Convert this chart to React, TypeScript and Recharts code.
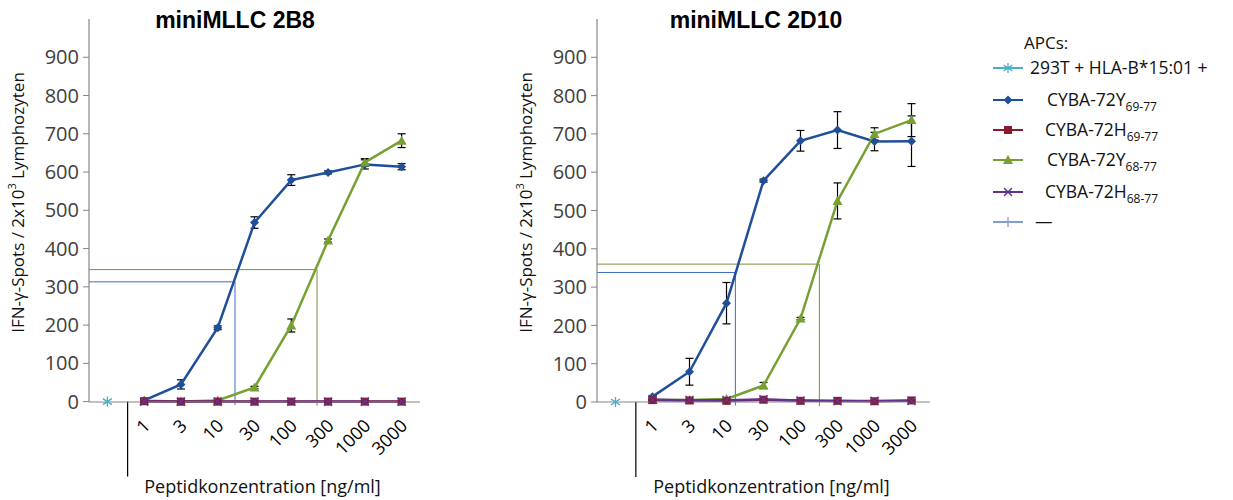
import { LineChart, Line, XAxis, YAxis, ErrorBar, ReferenceLine, Label } from "recharts";

const FONT = "'Open Sans', 'DejaVu Sans', sans-serif";

// peptide doses; slot 0 is the APC-only control
const doseLabels = ["", "1", "3", "10", "30", "100", "300", "1000", "3000"];
const spotTicks = [0, 100, 200, 300, 400, 500, 600, 700, 800, 900];

// miniMLLC 2B8
const ctrl2B8 = [0, null, null, null, null, null, null, null, null];
const y6977_2B8 = [null, 3, 45, 193, 468, 579, 599, 620, 614];
const y6977Err2B8 = [0, 3, 12, 5, 15, 14, 4, 12, 8];
const h6977_2B8 = [null, 1, 0, 0, 0, 0, 0, 0, 0];
const h6977Err2B8 = [0, 1, 1, 1, 1, 1, 1, 1, 1];
const y6877_2B8 = [null, 2, 0, 3, 37, 199, 421, 625, 682];
const y6877Err2B8 = [0, 1, 1, 2, 3, 17, 4, 10, 18];
const h6877_2B8 = [null, 0, 0, 0, 0, 0, 0, 0, 0];
const h6877Err2B8 = [0, 1, 1, 1, 1, 1, 1, 1, 1];
const ec50Y6977_2B8 = [3.47, 313];
const ec50Y6877_2B8 = [5.7, 345];

// miniMLLC 2D10
const ctrl2D10 = [0, null, null, null, null, null, null, null, null];
const y6977_2D10 = [null, 14, 79, 258, 578, 682, 710, 680, 681];
const y6977Err2D10 = [0, 3, 35, 54, 4, 27, 48, 24, 66];
const h6977_2D10 = [null, 5, 4, 3, 6, 3, 3, 2, 4];
const h6977Err2D10 = [0, 2, 2, 2, 3, 2, 2, 2, 2];
const y6877_2D10 = [null, 5, 5, 8, 43, 218, 525, 700, 736];
const y6877Err2D10 = [0, 2, 2, 2, 8, 3, 47, 16, 43];
const h6877_2D10 = [null, 6, 5, 5, 7, 4, 2, 3, 3];
const h6877Err2D10 = [0, 2, 2, 2, 2, 2, 2, 2, 2];
const ec50Y6977_2D10 = [3.24, 338];
const ec50Y6877_2D10 = [5.51, 360];

// legend entries (name + subscript)
const legendNames = ["293T + HLA-B*15:01 +", "CYBA-72Y", "CYBA-72H", "CYBA-72Y", "CYBA-72H", "—"];
const legendSubs = ["", "69-77", "69-77", "68-77", "68-77", ""];
const legendShapes = ["asterisk", "diamond", "square", "triangle", "cross", "plus"];
const legendColors = ["#4BACC6", "#1F4F99", "#8C1A2E", "#77A032", "#60338F", "#7F9FD0"];

type Row = Record<string, number | null>;

function buildRows(
  ctrl: (number | null)[],
  y69: (number | null)[],
  y69Err: number[],
  h69: (number | null)[],
  h69Err: number[],
  y68: (number | null)[],
  y68Err: number[],
  h68: (number | null)[],
  h68Err: number[]
): Row[] {
  return doseLabels.map((_, i) => ({
    x: i,
    ctrl: ctrl[i],
    y69: y69[i],
    y69Err: y69Err[i],
    h69: h69[i],
    h69Err: h69Err[i],
    y68: y68[i],
    y68Err: y68Err[i],
    h68: h68[i],
    h68Err: h68Err[i],
  }));
}

const rows2B8 = buildRows(ctrl2B8, y6977_2B8, y6977Err2B8, h6977_2B8, h6977Err2B8, y6877_2B8, y6877Err2B8, h6877_2B8, h6877Err2B8);
const rows2D10 = buildRows(ctrl2D10, y6977_2D10, y6977Err2D10, h6977_2D10, h6977Err2D10, y6877_2D10, y6877Err2D10, h6877_2D10, h6877Err2D10);

function Marker({ shape, x, y, color }: { shape: string; x: number; y: number; color: string }) {
  switch (shape) {
    case "diamond":
      return <polygon points={`${x},${y - 4.5} ${x + 4.5},${y} ${x},${y + 4.5} ${x - 4.5},${y}`} fill={color} />;
    case "square":
      return <rect x={x - 4} y={y - 4} width={8} height={8} fill={color} />;
    case "triangle":
      return <polygon points={`${x},${y - 5} ${x + 5},${y + 4} ${x - 5},${y + 4}`} fill={color} />;
    case "cross":
      return (
        <g stroke={color} strokeWidth={1.5}>
          <line x1={x - 4} y1={y - 4} x2={x + 4} y2={y + 4} />
          <line x1={x - 4} y1={y + 4} x2={x + 4} y2={y - 4} />
        </g>
      );
    case "asterisk":
      return (
        <g stroke={color} strokeWidth={1.3}>
          <line x1={x} y1={y - 5} x2={x} y2={y + 5} />
          <line x1={x - 4.5} y1={y - 3} x2={x + 4.5} y2={y + 3} />
          <line x1={x - 4.5} y1={y + 3} x2={x + 4.5} y2={y - 3} />
        </g>
      );
    default:
      return (
        <g stroke={color} strokeWidth={1.3}>
          <line x1={x - 5} y1={y} x2={x + 5} y2={y} />
          <line x1={x} y1={y - 5} x2={x} y2={y + 5} />
        </g>
      );
  }
}

function dotFor(shape: string, color: string) {
  // eslint-disable-next-line @typescript-eslint/no-explicit-any
  return (props: any) => {
    const { cx, cy, index, value } = props;
    if (cx == null || cy == null || value == null) return <g key={`${shape}-${index}`} />;
    return (
      <g key={`${shape}-${index}`}>
        <Marker shape={shape} x={cx} y={cy} color={color} />
      </g>
    );
  };
}

// eslint-disable-next-line @typescript-eslint/no-explicit-any
function DoseTick(props: any) {
  const { x, y, payload } = props;
  return (
    <g transform={`translate(${x},${y})`}>
      <text
        x={7}
        y={25}
        textAnchor="end"
        transform="rotate(-45 7 25)"
        fill="#000"
        fontSize={18}
        fontFamily={FONT}
      >
        {doseLabels[payload.value]}
      </text>
    </g>
  );
}

// eslint-disable-next-line @typescript-eslint/no-explicit-any
function SpotsTitle(props: any) {
  const { viewBox } = props;
  const cx = viewBox.x + 8;
  const cy = viewBox.y + viewBox.height / 2 - 8;
  return (
    <text
      transform={`translate(${cx},${cy}) rotate(-90)`}
      textAnchor="middle"
      dominantBaseline="central"
      fill="#111"
      fontSize={17}
      fontFamily={FONT}
    >
      IFN-γ-Spots / 2x10
      <tspan dy={-6} fontSize={11}>3</tspan>
      <tspan dy={6}> Lymphozyten</tspan>
    </text>
  );
}

// eslint-disable-next-line @typescript-eslint/no-explicit-any
function DoseTitle(props: any) {
  const { viewBox } = props;
  return (
    <text
      x={viewBox.x + viewBox.width / 2 + 8}
      y={viewBox.y + 91}
      textAnchor="middle"
      fill="#111"
      fontSize={18}
      fontFamily={FONT}
    >
      Peptidkonzentration [ng/ml]
    </text>
  );
}

type PanelProps = {
  title: string;
  rows: Row[];
  ec50Blue: number[];
  ec50Green: number[];
  left: number;
  rightMargin: number;
  titleCenter: number;
};

function Panel({ title, rows, ec50Blue, ec50Green, left, rightMargin, titleCenter }: PanelProps) {
  const width = 460;
  return (
    <div style={{ position: "absolute", left, top: 0, width, height: 500 }}>
      <div
        style={{
          position: "absolute",
          left: titleCenter - 150,
          top: 7,
          width: 300,
          textAlign: "center",
          fontFamily: "'Liberation Sans', Arial, sans-serif",
          fontWeight: 700,
          fontSize: 23,
          color: "#000",
        }}
      >
        {title}
      </div>
      <LineChart width={width} height={500} data={rows} margin={{ top: 19, right: rightMargin, left: 9, bottom: 0 }}>
        <XAxis
          type="number"
          dataKey="x"
          domain={[-0.5, 8.5]}
          ticks={[1, 2, 3, 4, 5, 6, 7, 8]}
          interval={0}
          tickLine={false}
          tickSize={0}
          tickMargin={0}
          axisLine={{ stroke: "#868686", strokeWidth: 1.2 }}
          tick={DoseTick}
          height={98}
        >
          <Label content={DoseTitle} />
        </XAxis>
        <YAxis
          type="number"
          domain={[0, 1000]}
          ticks={spotTicks}
          interval={0}
          width={80}
          tickSize={6}
          tickMargin={4}
          axisLine={{ stroke: "#868686", strokeWidth: 1.2 }}
          tickLine={{ stroke: "#868686" }}
          tick={{ fill: "#404040", fontSize: 20, fontFamily: FONT }}
        >
          <Label content={SpotsTitle} />
        </YAxis>
        <ReferenceLine
          segment={[{ x: 0.55, y: 0 }, { x: 0.55, y: -196 }]}
          stroke="#000"
          strokeWidth={1.2}
          ifOverflow="visible"
        />
        <ReferenceLine
          segment={[{ x: -0.5, y: ec50Blue[1] }, { x: ec50Blue[0], y: ec50Blue[1] }]}
          stroke="#3D6CC0"
          strokeWidth={1}
          ifOverflow="visible"
        />
        <ReferenceLine
          segment={[{ x: ec50Blue[0], y: ec50Blue[1] }, { x: ec50Blue[0], y: -9 }]}
          stroke="#3D6CC0"
          strokeWidth={1}
          ifOverflow="visible"
        />
        <ReferenceLine
          segment={[{ x: -0.5, y: ec50Green[1] }, { x: ec50Green[0], y: ec50Green[1] }]}
          stroke="#76923C"
          strokeWidth={1}
          ifOverflow="visible"
        />
        <ReferenceLine
          segment={[{ x: ec50Green[0], y: ec50Green[1] }, { x: ec50Green[0], y: -11 }]}
          stroke="#76923C"
          strokeWidth={1}
          ifOverflow="visible"
        />
        <Line
          dataKey="ctrl"
          stroke={legendColors[0]}
          dot={dotFor("asterisk", legendColors[0])}
          activeDot={false}
          isAnimationActive={false}
        />
        <Line
          dataKey="y69"
          stroke={legendColors[1]}
          strokeWidth={2.5}
          dot={dotFor("diamond", legendColors[1])}
          activeDot={false}
          isAnimationActive={false}
        >
          <ErrorBar dataKey="y69Err" direction="y" width={4} stroke="#000" strokeWidth={1.2} />
        </Line>
        <Line
          dataKey="y68"
          stroke={legendColors[3]}
          strokeWidth={2.5}
          dot={dotFor("triangle", legendColors[3])}
          activeDot={false}
          isAnimationActive={false}
        >
          <ErrorBar dataKey="y68Err" direction="y" width={4} stroke="#000" strokeWidth={1.2} />
        </Line>
        <Line
          dataKey="h69"
          stroke={legendColors[2]}
          strokeWidth={2.5}
          dot={dotFor("square", legendColors[2])}
          activeDot={false}
          isAnimationActive={false}
        >
          <ErrorBar dataKey="h69Err" direction="y" width={4} stroke="#000" strokeWidth={1} />
        </Line>
        <Line
          dataKey="h68"
          stroke={legendColors[4]}
          strokeWidth={2.2}
          dot={dotFor("cross", legendColors[4])}
          activeDot={false}
          isAnimationActive={false}
        >
          <ErrorBar dataKey="h68Err" direction="y" width={4} stroke="#000" strokeWidth={1} />
        </Line>
      </LineChart>
    </div>
  );
}

function ApcLegend() {
  const rowY = [48, 80, 110, 140, 172, 202];
  const textX = [70, 87, 85, 87, 85, 75];
  return (
    <svg width={273} height={240} style={{ position: "absolute", left: 960, top: 20 }}>
      <text x={64} y={29} fontSize={17} fontFamily={FONT} fill="#111">
        APCs:
      </text>
      {legendNames.map((name, i) => (
        <g key={name + i}>
          <line x1={33} x2={63} y1={rowY[i]} y2={rowY[i]} stroke={legendColors[i]} strokeWidth={2} />
          <Marker shape={legendShapes[i]} x={48} y={rowY[i]} color={legendColors[i]} />
          <text x={textX[i]} y={rowY[i] + 6} fontSize={17.5} fontFamily={FONT} fill="#111">
            {name}
            {legendSubs[i] && (
              <tspan dy={5} fontSize={12}>
                {legendSubs[i]}
              </tspan>
            )}
          </text>
        </g>
      ))}
    </svg>
  );
}

export default function App() {
  return (
    <div style={{ position: "absolute", left: 0, top: 0, width: 1233, height: 500, background: "#fff" }}>
      <Panel
        title="miniMLLC 2B8"
        rows={rows2B8}
        ec50Blue={ec50Y6977_2B8}
        ec50Green={ec50Y6877_2B8}
        left={0}
        rightMargin={40}
        titleCenter={235}
      />
      <Panel
        title="miniMLLC 2D10"
        rows={rows2D10}
        ec50Blue={ec50Y6977_2D10}
        ec50Green={ec50Y6877_2D10}
        left={508}
        rightMargin={38}
        titleCenter={248}
      />
      <ApcLegend />
    </div>
  );
}
